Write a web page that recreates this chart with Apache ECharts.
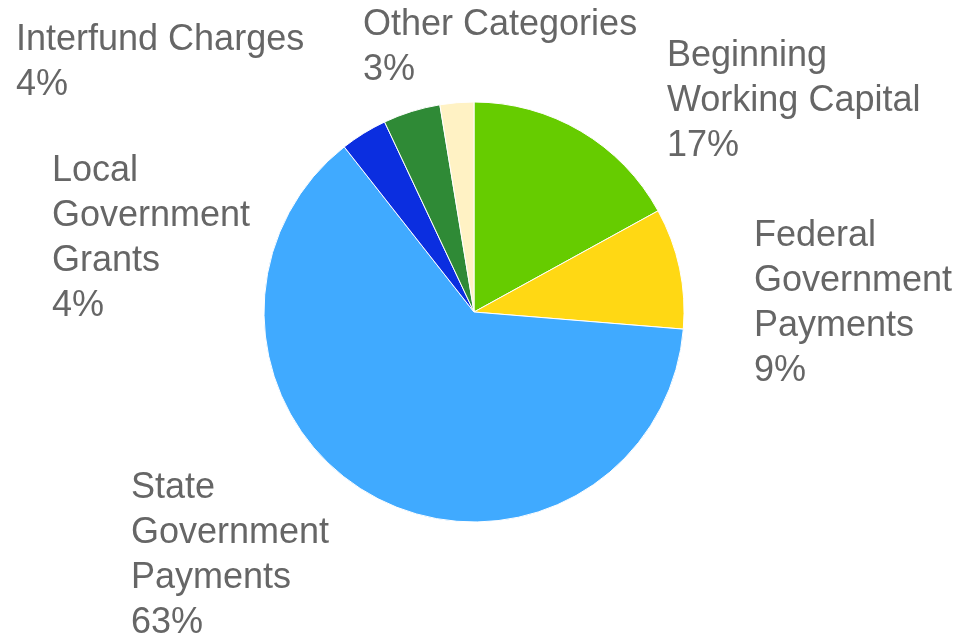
<!DOCTYPE html>
<html>
<head>
<meta charset="utf-8">
<script src="https://cdn.jsdelivr.net/npm/echarts@6/dist/echarts.min.js"></script>
<style>
  html, body { margin: 0; padding: 0; background: #fff; }
  #chart { width: 964px; height: 634px; }
</style>
</head>
<body>
<div id="chart"></div>
<script>
// slice order, clockwise from 12 o'clock
const categories = [
  'Beginning Working Capital',
  'Federal Government Payments',
  'State Government Payments',
  'Local Government Grants',
  'Interfund Charges',
  'Other Categories'
]
// how each label is wrapped in the picture
const labelText = [
  'Beginning\nWorking Capital',
  'Federal\nGovernment\nPayments',
  'State\nGovernment\nPayments',
  'Local\nGovernment\nGrants',
  'Interfund Charges',
  'Other Categories'
]
const shares = [17.0, 9.3, 63.1, 3.6, 4.4, 2.6]
const colors = ['#66cc00', '#ffd814', '#40aaff', '#0b2ee0', '#2f8a36', '#fff2c4']

// top-left of each label block
const labelPos = [
  [667, 34],
  [754, 214],
  [131, 466],
  [52, 149],
  [16, 18],
  [363, 3]
]

let myChart = echarts.init(document.getElementById('chart'))

let option = {
  animation: false,
  backgroundColor: '#ffffff',
  series: [
    {
      type: 'pie',
      center: [474, 312],
      radius: 210,
      startAngle: 90,
      clockwise: true,
      avoidLabelOverlap: false,
      itemStyle: {
        borderColor: '#ffffff',
        borderWidth: 1
      },
      label: {
        show: true,
        position: 'outside',
        color: '#666666',
        fontFamily: 'Liberation Sans, Arial, sans-serif',
        fontSize: 36,
        lineHeight: 45,
        formatter: function(params) {
          return labelText[params.dataIndex] + '\n' + Math.round(params.value) + '%'
        }
      },
      labelLine: { show: false },
      labelLayout: function(params) {
        let p = labelPos[params.dataIndex]
        return {
          x: p[0],
          y: p[1],
          align: 'left',
          verticalAlign: 'top'
        }
      },
      data: categories.map((name, i) => ({
        name: name,
        value: shares[i],
        itemStyle: { color: colors[i] }
      }))
    }
  ]
}

myChart.setOption(option)
</script>
</body>
</html>
